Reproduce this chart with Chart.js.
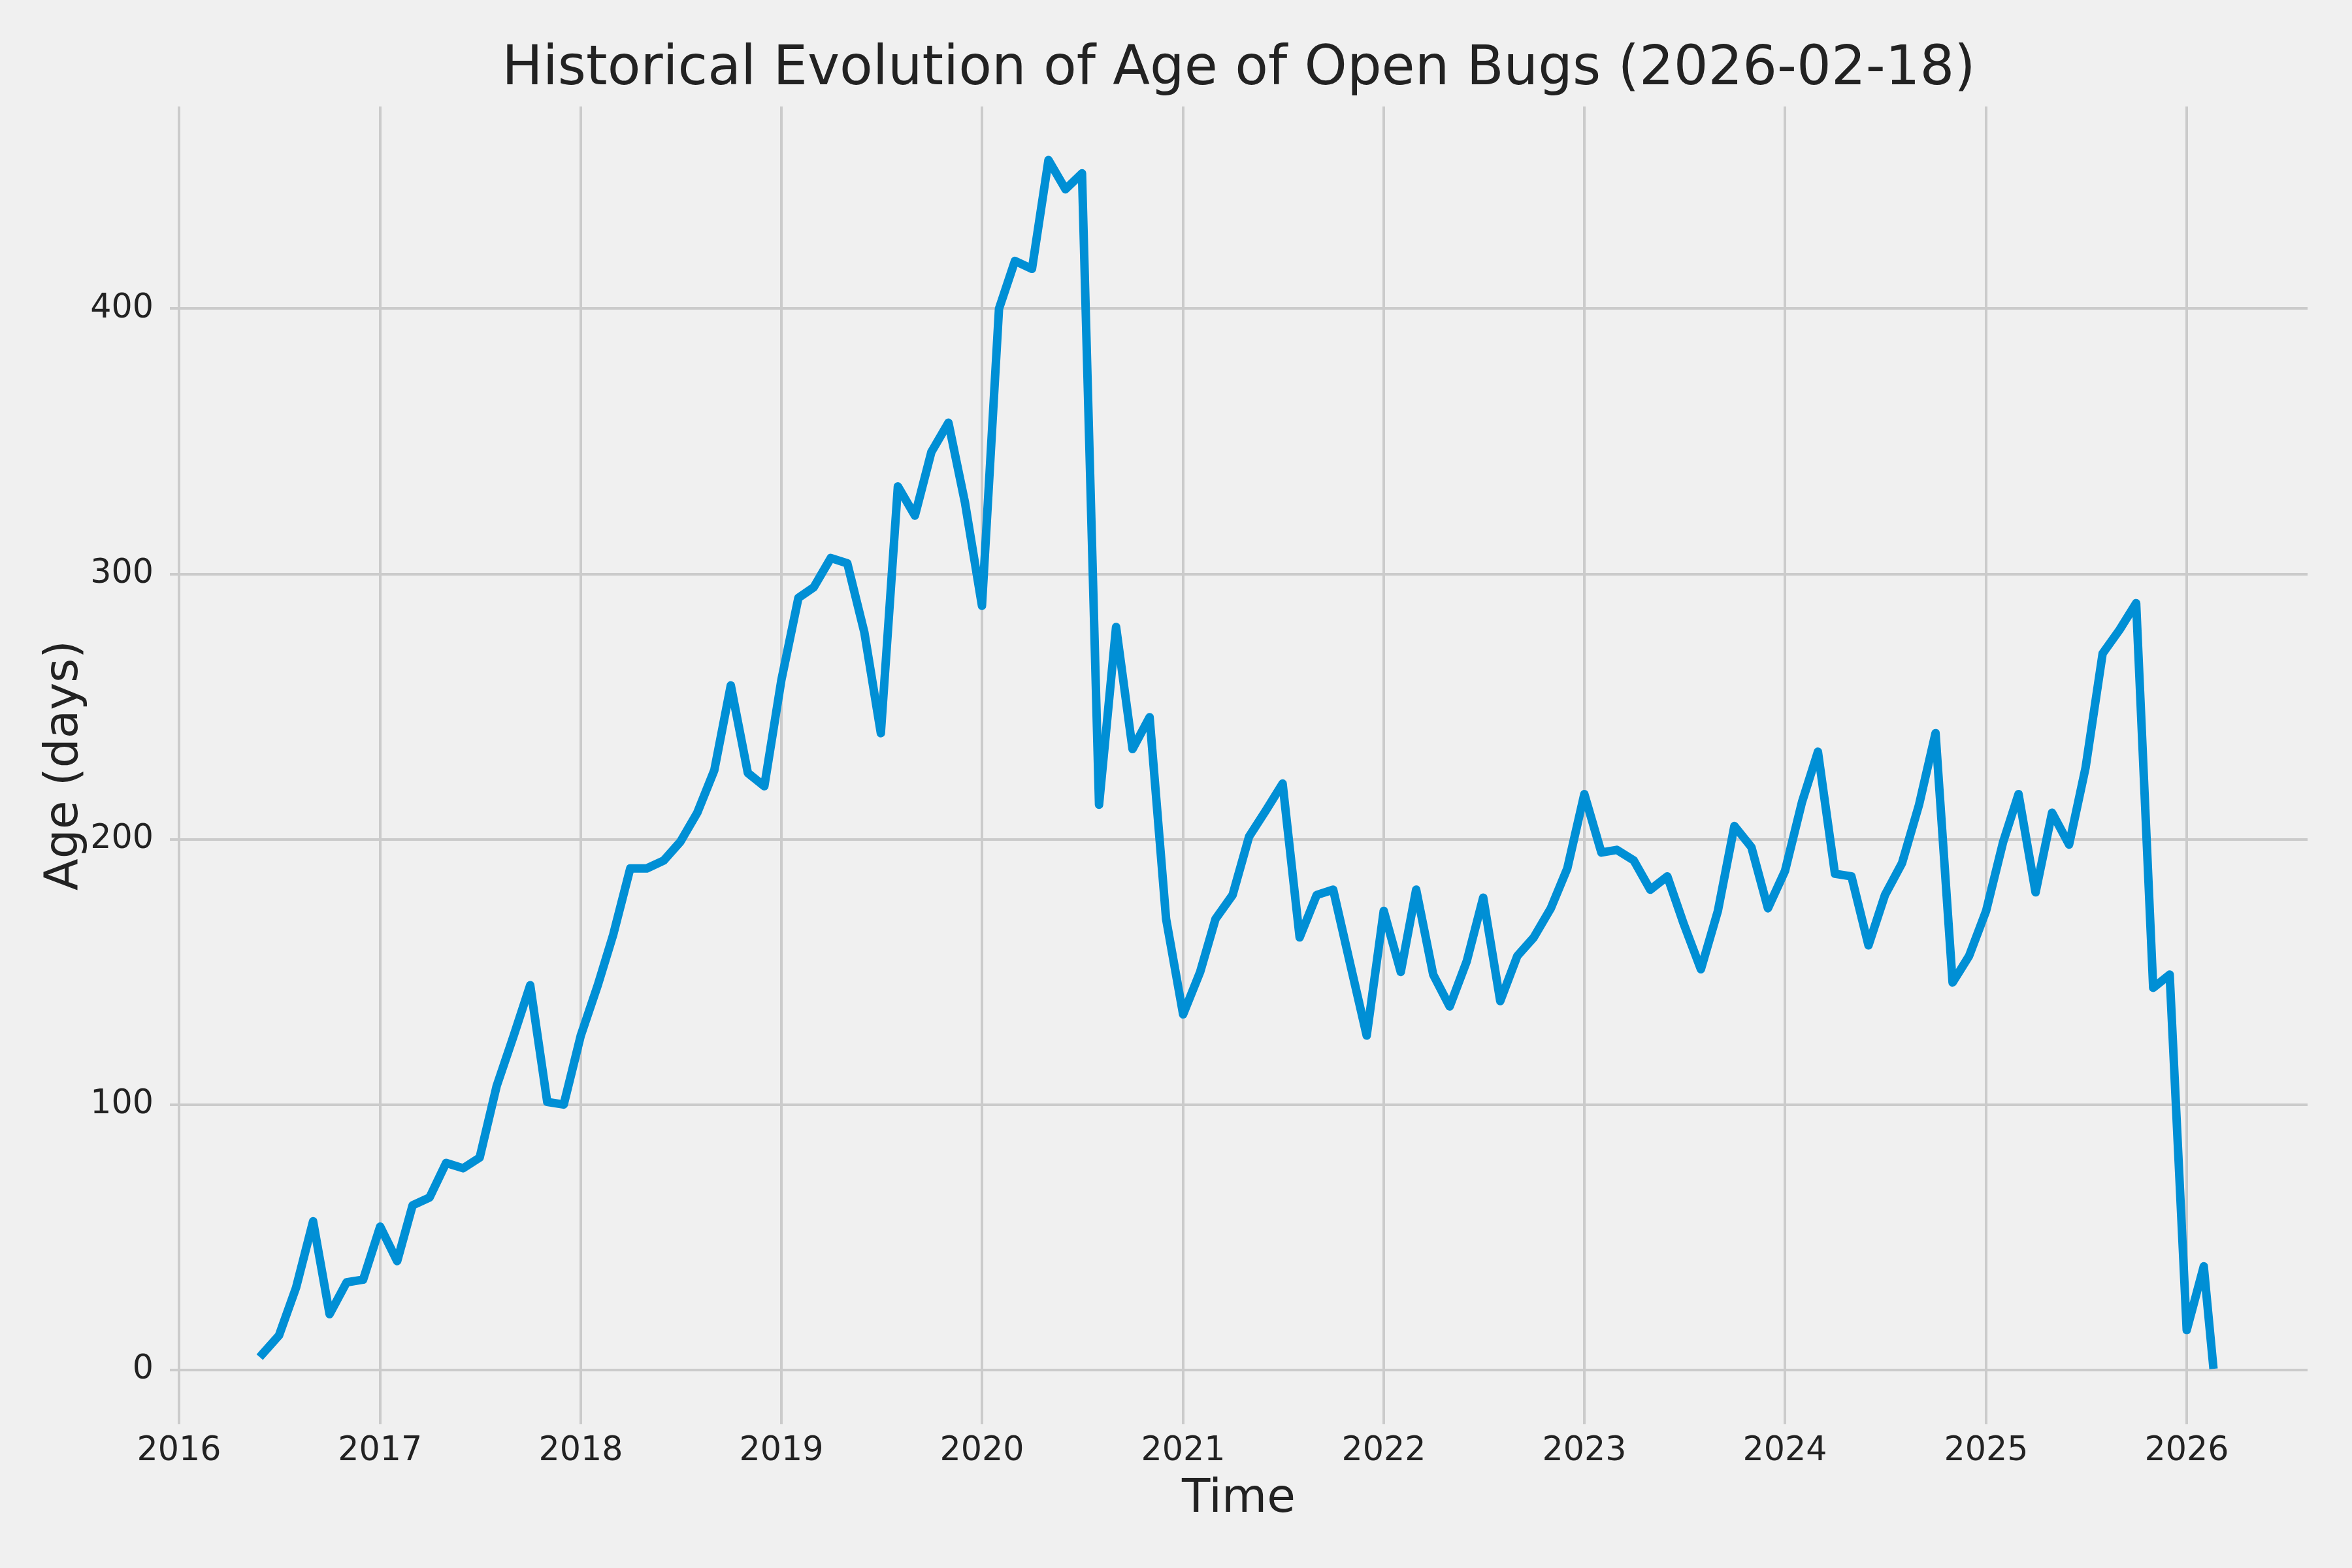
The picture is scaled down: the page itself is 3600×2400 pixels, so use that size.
<!DOCTYPE html>
<html>
<head>
  <meta charset="utf-8">
  <title>Historical Evolution of Age of Open Bugs</title>
  <script src="https://cdn.jsdelivr.net/npm/chart.js"></script>
  <style>
    html, body {
      margin: 0;
      padding: 0;
      background-color: #f0f0f0;
    }
    #wrap {
      width: 3600px;
      height: 2400px;
    }
  </style>
</head>
<body>
  <div id="wrap">
    <canvas id="bugChart" width="3600" height="2400"></canvas>
  </div>

  <script>
    // Sample dates (month starts, plus the snapshot day)
    const dates = [
      '2016-06', '2016-07', '2016-08', '2016-09', '2016-10', '2016-11', '2016-12',
      '2017-01', '2017-02', '2017-03', '2017-04', '2017-05', '2017-06', '2017-07', '2017-08', '2017-09', '2017-10', '2017-11', '2017-12',
      '2018-01', '2018-02', '2018-03', '2018-04', '2018-05', '2018-06', '2018-07', '2018-08', '2018-09', '2018-10', '2018-11', '2018-12',
      '2019-01', '2019-02', '2019-03', '2019-04', '2019-05', '2019-06', '2019-07', '2019-08', '2019-09', '2019-10', '2019-11', '2019-12',
      '2020-01', '2020-02', '2020-03', '2020-04', '2020-05', '2020-06', '2020-07', '2020-08', '2020-09', '2020-10', '2020-11', '2020-12',
      '2021-01', '2021-02', '2021-03', '2021-04', '2021-05', '2021-06', '2021-07', '2021-08', '2021-09', '2021-10', '2021-11', '2021-12',
      '2022-01', '2022-02', '2022-03', '2022-04', '2022-05', '2022-06', '2022-07', '2022-08', '2022-09', '2022-10', '2022-11', '2022-12',
      '2023-01', '2023-02', '2023-03', '2023-04', '2023-05', '2023-06', '2023-07', '2023-08', '2023-09', '2023-10', '2023-11', '2023-12',
      '2024-01', '2024-02', '2024-03', '2024-04', '2024-05', '2024-06', '2024-07', '2024-08', '2024-09', '2024-10', '2024-11', '2024-12',
      '2025-01', '2025-02', '2025-03', '2025-04', '2025-05', '2025-06', '2025-07', '2025-08', '2025-09', '2025-10', '2025-11', '2025-12',
      '2026-01', '2026-02', '2026-02-18'
    ];

    // Age of open bugs (days)
    const ageDays = [
      6, 13, 31, 56, 21, 33, 34,
      54, 41, 62, 65, 78, 76, 80, 107, 126, 145, 101, 100,
      126, 145, 164, 189, 189, 192, 199, 210, 226, 258, 225, 220,
      260, 291, 295, 306, 304, 278, 240, 333, 322, 346, 357, 327,
      288, 400, 418, 415, 456, 445, 451, 213, 280, 234, 246, 170,
      134, 150, 170, 179, 201, 211, 221, 163, 179, 181, 153, 126,
      173, 150, 181, 149, 137, 154, 178, 139, 156, 163, 174, 189,
      217, 195, 196, 192, 181, 186, 168, 151, 173, 205, 197, 174,
      188, 214, 233, 187, 186, 160, 179, 191, 213, 240, 146, 156,
      173, 199, 217, 180, 210, 198, 227, 270, 279, 289, 144, 149,
      15, 39, 2
    ];

    const yearTicks = [2016, 2017, 2018, 2019, 2020, 2021, 2022, 2023, 2024, 2025, 2026];
    const ageTicks = [0, 100, 200, 300, 400];

    const DAY = 86400000;
    function toDay(s) {
      const p = String(s).split('-').map(Number);
      return Date.UTC(p[0], (p[1] || 1) - 1, p[2] || 1) / DAY;
    }

    const points = dates.map((d, i) => ({ x: toDay(d), y: ageDays[i] }));

    const FONT = "'DejaVu Sans', 'Liberation Sans', sans-serif";
    const TEXT = '#222222';
    Chart.defaults.font.family = FONT;

    const ctx = document.getElementById('bugChart').getContext('2d');
    new Chart(ctx, {
      type: 'line',
      data: {
        datasets: [{
          label: 'Age (days)',
          data: points,
          borderColor: '#008fd5',
          borderWidth: 13,
          borderCapStyle: 'square',
          borderJoinStyle: 'round',
          pointRadius: 0,
          tension: 0,
          fill: false
        }]
      },
      options: {
        responsive: false,
        devicePixelRatio: 1,
        animation: false,
        layout: {
          padding: { left: 0, right: 68, top: 0, bottom: 20 }
        },
        plugins: {
          legend: { display: false },
          tooltip: { enabled: false },
          title: {
            display: true,
            text: 'Historical Evolution of Age of Open Bugs (2026-02-18)',
            fullSize: false,
            color: TEXT,
            font: { size: 83, weight: 'normal' },
            padding: { top: 58, bottom: 5.4 }
          }
        },
        scales: {
          x: {
            type: 'linear',
            min: toDay('2016-01-01') - 16.6,
            max: toDay('2026-01-01') + 219.9,
            afterBuildTicks: (scale) => {
              scale.ticks = yearTicks.map(y => ({ value: toDay(y + '-01-01') }));
            },
            afterFit: (scale) => { scale.height = 200; },
            border: { display: false },
            grid: { color: '#cbcbcb', lineWidth: 4, drawTicks: false },
            ticks: {
              color: TEXT,
              font: { size: 50.7 },
              padding: 11,
              maxRotation: 0,
              autoSkip: false,
              callback: (v) => new Date(v * DAY).getUTCFullYear()
            },
            title: {
              display: true,
              text: 'Time',
              color: TEXT,
              font: { size: 71 },
              padding: { top: 0, bottom: 42 }
            }
          },
          y: {
            min: -20.5,
            max: 476.2,
            afterBuildTicks: (scale) => {
              scale.ticks = ageTicks.map(v => ({ value: v }));
            },
            afterFit: (scale) => { scale.width = 260; },
            border: { display: false },
            grid: { color: '#cbcbcb', lineWidth: 4, drawTicks: false },
            ticks: {
              color: TEXT,
              font: { size: 50.7 },
              padding: 25
            },
            title: {
              display: true,
              text: 'Age (days)',
              color: TEXT,
              font: { size: 71 },
              padding: { top: 57, bottom: 0 }
            }
          }
        }
      }
    });
  </script>
</body>
</html>
